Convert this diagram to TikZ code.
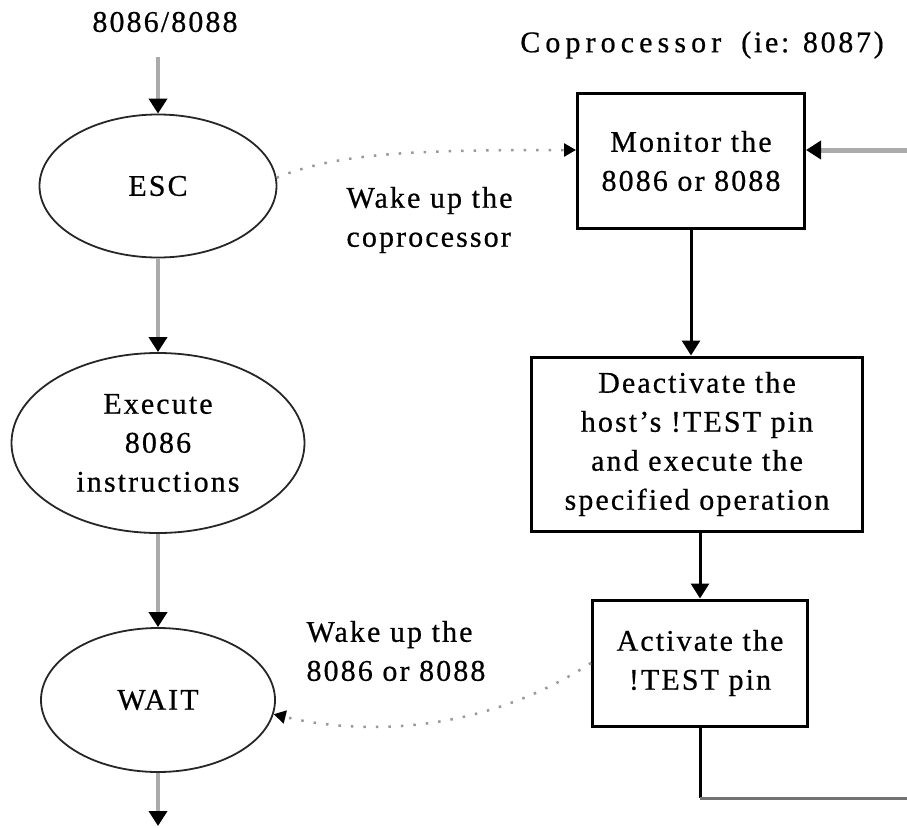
\documentclass[tikz,border=0pt]{standalone}
\usepackage{fontspec}
\setmainfont{Liberation Serif}[LetterSpace=7,FakeBold=0.6]
\usetikzlibrary{arrows.meta,shapes.geometric,calc}

\begin{document}
\begin{tikzpicture}[x=1pt,y=1pt,font=\fontsize{30}{39}\selectfont,
  ell/.style={ellipse,draw=black!85,line width=1.8pt,inner sep=0pt,align=center},
  box/.style={draw,line width=3pt,inner sep=0pt,align=center},
  flow/.style={draw=black!33,line width=4.5pt,-{Triangle[color=black,length=15pt,width=18pt]}},
  ctl/.style={draw,line width=3pt,-{Triangle[length=15pt,width=18pt]}},
  wake/.style={draw=black!40,line width=2.5pt,dash pattern=on 2.5pt off 10pt,
    -{Triangle[color=black,length=12pt,width=13pt]}}]
\useasboundingbox (0,0) rectangle (907,-827);
\node (host) at (165,-22) {8086/8088};
\node[ell,minimum width=237pt,minimum height=143pt] (esc) at (158,-186) {ESC};
\node[ell,minimum width=293pt,minimum height=180pt] (exe) at (158,-443) {Execute\\8086\\instructions};
\node[ell,minimum width=234pt,minimum height=144pt] (wait) at (158,-700) {WAIT};
\node (cop) at (702,-45) {{\addfontfeature{LetterSpace=17}Coprocessor}\hspace{20pt}{\addfontfeature{LetterSpace=9}(ie: 8087)}};
\node[box,minimum width=227pt,minimum height=135pt] (mon) at (691,-161) {Monitor the\\8086 or 8088};
\node[box,minimum width=331pt,minimum height=174pt] (deact) at (697,-444)
  {Deactivate the\\host's !TEST pin\\and execute the\\specified operation};
\node[box,minimum width=215pt,minimum height=126pt] (act) at (700,-663) {Activate the\\!TEST pin};
\node[align=left,anchor=west] (wk1) at (343,-220) {Wake up the\\coprocessor};
\node[align=left,anchor=west] (wk2) at (303,-651) {Wake up the\\8086 or 8088};
\coordinate (top) at ($(esc.north)+(0,57)$);
\coordinate (out) at (158,-826);
\coordinate (feed) at (907,-150);
\coordinate (lpa) at (700,-798);
\coordinate (lpb) at (907,-798);
\draw[flow] (top) -- (esc.north);
\draw[flow] (esc) -- (exe);
\draw[flow] (exe) -- (wait);
\draw[flow] (wait) -- (out);
\draw[flow,line width=5pt] (feed) -- (feed -| mon.east);
\draw[ctl] (mon.south) -- (mon.south |- deact.north);
\draw[ctl] (act.north |- deact.south) -- (act.north);
\draw[line width=3pt] (act.south) -- (lpa);
\draw[draw=black!55,line width=3pt] (lpa) -- (lpb);
\draw[wake] (esc.4) .. controls (340,-152) and (420,-150) .. ($(mon.west)+(0,11)$);
\draw[wake] (act.west) .. controls (480,-735) and (360,-735) .. (wait.-7);
\end{tikzpicture}
\end{document}
